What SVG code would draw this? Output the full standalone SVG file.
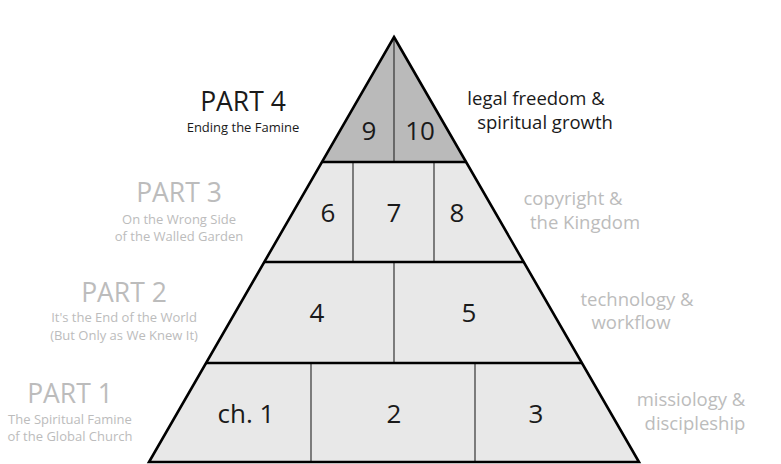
<svg xmlns="http://www.w3.org/2000/svg" width="781" height="464" viewBox="0 0 781 464">
<style>
text{font-family:"Open Sans","Noto Sans","Liberation Sans",sans-serif;}
.num{font-size:26px;fill:#1a1a1a;text-anchor:middle;}
.part{font-size:26.5px;text-anchor:middle;}
.sub{font-size:13px;text-anchor:middle;}
.topic{font-size:18.5px;text-anchor:middle;}
.dark{fill:#1a1a1a;}
.light{fill:#bcbcbc;}
.cell{fill:#e8e8e8;}
.cell-top{fill:#bababa;}
.div{stroke:#333;stroke-width:1.2;fill:none;}
.edge{stroke:#000;stroke-width:2.6;fill:none;stroke-linejoin:miter;}
</style>
<rect width="781" height="464" fill="#ffffff"/>
<g id="level4">
<polygon class="cell-top" points="394,37 466,162 322,162"/>
<text class="num" x="369" y="140">9</text>
<text class="num" x="420" y="140">10</text>
</g>
<g id="level3">
<polygon class="cell" points="322,162 466,162 524,262 264,262"/>
<text class="num" x="328" y="222">6</text>
<text class="num" x="394" y="222">7</text>
<text class="num" x="457" y="222">8</text>
</g>
<g id="level2">
<polygon class="cell" points="264,262 524,262 582,363 206,363"/>
<text class="num" x="317" y="322">4</text>
<text class="num" x="469" y="322">5</text>
</g>
<g id="level1">
<polygon class="cell" points="206,363 582,363 639,462 149,462"/>
<text class="num" x="246" y="423">ch. 1</text>
<text class="num" x="394" y="423">2</text>
<text class="num" x="536" y="423">3</text>
</g>
<g id="connectors">
<line class="div" x1="394" y1="37" x2="394" y2="162"/>
<line class="div" x1="353" y1="162" x2="353" y2="262"/>
<line class="div" x1="434" y1="162" x2="434" y2="262"/>
<line class="div" x1="394" y1="262" x2="394" y2="363"/>
<line class="div" x1="311" y1="363" x2="311" y2="462"/>
<line class="div" x1="475" y1="363" x2="475" y2="462"/>
<line class="edge" x1="322" y1="162" x2="466" y2="162"/>
<line class="edge" x1="264" y1="262" x2="524" y2="262"/>
<line class="edge" x1="206" y1="363" x2="582" y2="363"/>
<polygon class="edge" points="394,37 639,462 149,462"/>
</g>
<g id="part4">
<text class="part dark" x="243" y="111">PART 4</text>
<text class="sub dark" x="243" y="132">Ending the Famine</text>
<text class="topic dark" x="536" y="105">legal freedom &amp;</text>
<text class="topic dark" x="545" y="129">spiritual growth</text>
</g>
<g id="part3">
<text class="part light" x="179" y="202">PART 3</text>
<text class="sub light" x="179" y="224">On the Wrong Side</text>
<text class="sub light" x="179" y="241">of the Walled Garden</text>
<text class="topic light" x="573" y="205">copyright &amp;</text>
<text class="topic light" x="585" y="229">the Kingdom</text>
</g>
<g id="part2">
<text class="part light" x="124" y="302">PART 2</text>
<text class="sub light" x="124" y="322">It's the End of the World</text>
<text class="sub light" x="124" y="340">(But Only as We Knew It)</text>
<text class="topic light" x="637" y="306">technology &amp;</text>
<text class="topic light" x="631" y="329">workflow</text>
</g>
<g id="part1">
<text class="part light" x="70" y="403">PART 1</text>
<text class="sub light" x="70" y="424">The Spiritual Famine</text>
<text class="sub light" x="70" y="441">of the Global Church</text>
<text class="topic light" x="691" y="406">missiology &amp;</text>
<text class="topic light" x="695" y="430">discipleship</text>
</g>
</svg>
